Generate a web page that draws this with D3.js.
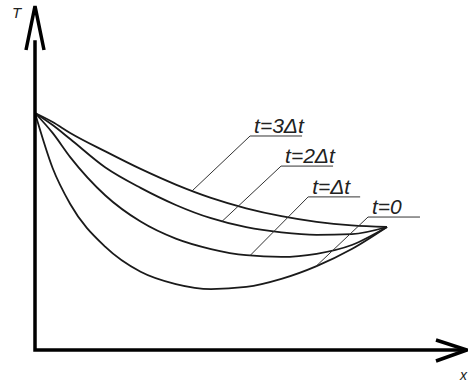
<!DOCTYPE html>
<html>
<head>
<meta charset="utf-8">
<script src="https://cdn.jsdelivr.net/npm/d3@7"></script>
<style>
body{margin:0;background:#fff;}
.lbl{font-family:"Liberation Sans",Arial,sans-serif;font-style:italic;fill:#222;}
</style>
</head>
<body>
<div id="chart"></div>
<script>
// x positions (arbitrary units) shared by all curves
var xs = [0, 0.5, 1, 2, 3, 4, 5, 6, 7, 8, 9, 10];
// temperature profiles
var t0  = [100, 76.8, 61.6, 43.5, 33.0, 27.8, 25.7, 26.6, 30.0, 35.4, 42.6, 51.9];
var t1  = [100, 91.6, 81.4, 65.2, 54.2, 47.0, 42.6, 40.0, 39.3, 40.6, 44.3, 51.9];
var t2  = [100, 94.9, 89.0, 77.0, 68.4, 61.2, 55.6, 51.8, 49.6, 48.6, 48.9, 51.9];
var t3  = [100, 96.2, 91.6, 83.8, 76.4, 69.8, 64.2, 59.8, 56.5, 54.1, 52.6, 51.9];
var seriesNames = ["t=0", "t=\u0394t", "t=2\u0394t", "t=3\u0394t"];
// where each leader touches its curve (x) and where its label sits (x, T)
var leaderAt = [7.98, 6.11, 5.31, 4.46];
var labelX   = [9.46, 7.76, 6.99, 6.11];
var labelT   = [56.1, 64.6, 77.6, 90.3];

var w = 468, h = 383;
var svg = d3.select("#chart").append("svg")
  .attr("width", w).attr("height", h);

var xScale = d3.scaleLinear().domain([0, 10]).range([35, 387]);
var yScale = d3.scaleLinear().domain([0, 100]).range([350, 113]);

var series = [t0, t1, t2, t3];
var line = d3.line()
  .x(function(d, i){ return xScale(xs[i]); })
  .y(function(d){ return yScale(d); })
  .curve(d3.curveMonotoneX);

var paths = svg.selectAll("path.curve")
  .data(series)
  .enter()
  .append("path")
  .attr("class", "curve")
  .attr("d", line)
  .attr("fill", "none")
  .attr("stroke", "#1a1a1a")
  .attr("stroke-width", 1.8);

// find the y of a rendered path at a given screen x
function yAtX(node, px) {
  var len = node.getTotalLength(), lo = 0, hi = len, p;
  for (var k = 0; k < 40; k++) {
    var mid = (lo + hi) / 2;
    p = node.getPointAtLength(mid);
    if (p.x < px) lo = mid; else hi = mid;
  }
  return p.y;
}

var ulen = 52;
paths.each(function(d, i) {
  var ax = xScale(leaderAt[i]);
  var ay = yAtX(this, ax);
  var lx = xScale(labelX[i]), ly = yScale(labelT[i]);
  svg.append("polyline")
    .attr("points", [[ax, ay], [lx, ly], [lx + ulen, ly]].join(" "))
    .attr("fill", "none")
    .attr("stroke", "#333")
    .attr("stroke-width", 1);
  svg.append("text")
    .attr("class", "lbl")
    .attr("x", lx + 4)
    .attr("y", ly - 3)
    .attr("font-size", 21)
    .text(seriesNames[i]);
});

// axes with arrow heads
var x0 = xScale(0), y0 = yScale(0);
svg.append("path")
  .attr("d", "M" + x0 + ",42 L" + x0 + "," + y0 + " L462," + y0)
  .attr("fill", "none")
  .attr("stroke", "#000")
  .attr("stroke-width", 3.5)
  .attr("stroke-linecap", "square");
svg.append("path")
  .attr("d", "M" + (x0 - 9) + ",50 L" + x0 + ",6 L" + (x0 + 9) + ",50")
  .attr("fill", "none").attr("stroke", "#000").attr("stroke-width", 3.5);
svg.append("path")
  .attr("d", "M436," + (y0 - 10) + " L467," + y0 + " L436," + (y0 + 11))
  .attr("fill", "none").attr("stroke", "#000").attr("stroke-width", 3.5);

svg.append("text").attr("class", "lbl")
  .attr("x", 12).attr("y", 18).attr("font-size", 15).text("T");
svg.append("text").attr("class", "lbl")
  .attr("x", 460).attr("y", 380).attr("font-size", 14).text("x");
</script>
</body>
</html>
